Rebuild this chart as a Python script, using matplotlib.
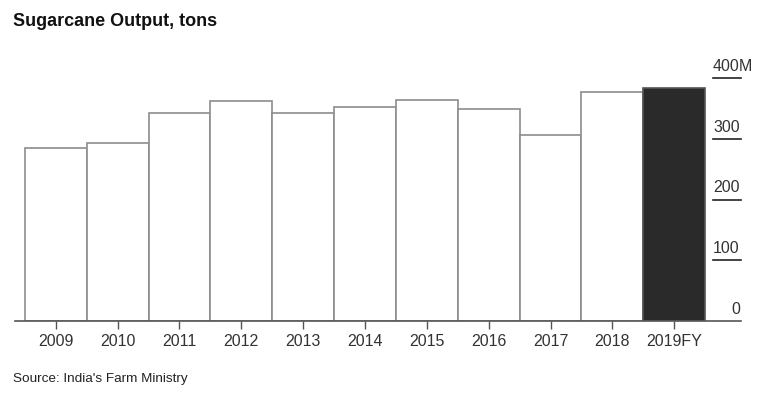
import matplotlib
matplotlib.use("Agg")
import matplotlib.pyplot as plt
from matplotlib.transforms import offset_copy

plt.rcParams['font.family'] = ['Liberation Sans', 'DejaVu Sans']

years = ['2009', '2010', '2011', '2012', '2013', '2014', '2015', '2016', '2017', '2018', '2019FY']
output = [285, 293, 342, 362, 342, 352, 363, 349, 306, 377, 384]
yticks = [0, 100, 200, 300, 400]
ytick_labels = ['0', '100', '200', '300', '400']

fig = plt.figure(figsize=(7.69, 4.01), dpi=100)
ax = fig.add_axes([15 / 769, 80 / 401, 726 / 769, 243 / 401])

x = list(range(len(years)))
colors = ['white'] * (len(years) - 1) + ['#2a2a2a']
edges = ['#8c8c8c'] * (len(years) - 1) + ['#555555']
ax.bar(x, output, width=1.0, color=colors, edgecolor=edges, linewidth=1.2, zorder=2)

ax.set_xlim(-0.66, 11.08)
ax.set_ylim(0, 400)

for s in ['top', 'right', 'left']:
    ax.spines[s].set_visible(False)
ax.spines['bottom'].set_color('#555555')
ax.spines['bottom'].set_linewidth(1.2)
ax.spines['bottom'].set_zorder(3)

ax.set_xticks(x)
ax.set_xticklabels(years, fontsize=11.5, color='#333333')
ax.tick_params(axis='x', length=6, width=1, color='#555555', pad=3)
ax.set_yticks([])

# right-side value labels with short underlines
tr = offset_copy(ax.transData, fig=fig, x=0, y=3, units='points')
for v, lab in zip(yticks, ytick_labels):
    ax.text(11.06, v, lab, ha='right', va='bottom', fontsize=11.5,
            color='#333333', transform=tr, clip_on=False)
    if v > 0:
        ax.plot([10.63, 11.08], [v, v], color='#222222', linewidth=1.2, clip_on=False)
ax.text(11.04, 400, 'M', ha='left', va='bottom', fontsize=11.5,
        color='#333333', transform=tr, clip_on=False)

fig.text(13 / 769, 1 - 21 / 401, 'Sugarcane Output, tons', fontsize=13,
         fontweight='bold', va='center', ha='left', color='#111111')
fig.text(13 / 769, 1 - 379 / 401, "Source: India's Farm Ministry", fontsize=9.7,
         va='center', ha='left', color='#222222')

fig.savefig('out.png', dpi=100)
